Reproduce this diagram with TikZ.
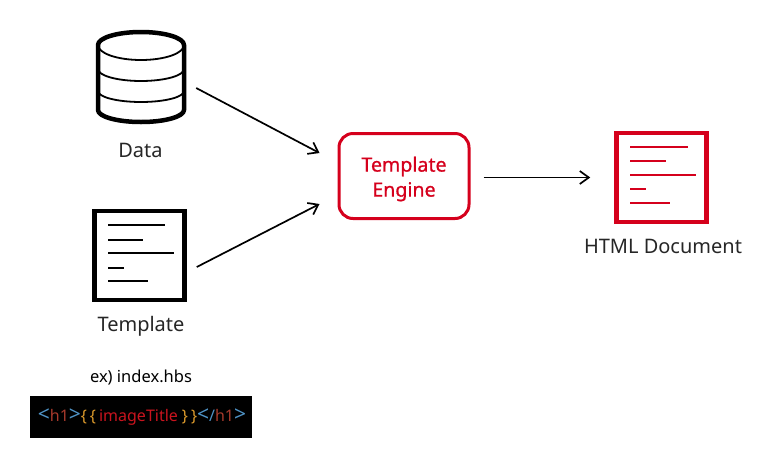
\documentclass[tikz,border=0pt]{standalone}
\usepackage{fontspec}
\setmainfont{Noto Sans}
\newfontfamily\enginefont[FakeBold=0.9]{Noto Sans}
\usetikzlibrary{arrows.meta,positioning,calc}
\definecolor{engred}{HTML}{D5001C}
\definecolor{tagblue}{HTML}{4F93C6}
\definecolor{tagname}{HTML}{A83A2C}
\definecolor{brace}{HTML}{D9982B}
\definecolor{varred}{HTML}{C9141E}
\newcommand{\chevopen}{\textcolor{tagblue}{\raisebox{-0.5pt}{\fontsize{21}{20}\selectfont\textless}}}
\newcommand{\chevclose}{\textcolor{tagblue}{\raisebox{-0.5pt}{\fontsize{21}{20}\selectfont\textgreater}}}
\begin{document}
\begin{tikzpicture}[x=1pt, y=-1pt, >={Straight Barb[length=9pt,width=13pt,line width=1.7pt]}]
\tikzstyle{label}=[font=\fontsize{20}{22}\selectfont, text=black!85, inner sep=0pt]
\tikzstyle{link}=[->, line width=1.7pt, black]
\tikzstyle{page}=[draw, line width=4.5pt, minimum width=90pt, minimum height=89pt, inner sep=0pt]
\tikzstyle{textline}=[line width=1.5pt]
\useasboundingbox (0,0) rectangle (777,467);
% database
\node[minimum width=90pt, minimum height=94pt, inner sep=0pt] (db) at (141,76) {};
\draw[line width=4.5pt, line join=round] (98,110) -- (98,45) arc[start angle=180, end angle=360, x radius=43, y radius=13] -- (184,110)
  arc[start angle=0, end angle=180, x radius=43, y radius=12] -- cycle;
\draw[line width=1.8pt] (98,45) arc[start angle=180, end angle=0, x radius=43, y radius=15];
\draw[line width=1.8pt] (98,69) arc[start angle=180, end angle=0, x radius=43, y radius=12];
\draw[line width=1.8pt] (98,91) arc[start angle=180, end angle=0, x radius=43, y radius=11];
\node[label] (datalabel) at (140.5,150) {Data};
% template page
\node[page] (tpl) at (139.5,255.5) {};
\foreach \y/\xend in {225/165, 240/143, 253/174, 268/124, 281/148}
  \draw[textline] (108,\y) -- (\xend,\y);
\node[label] (tpllabel) at (141,326) {Template};
% engine
\node[draw=engred, line width=3pt, rounded corners=14pt, minimum width=130pt, minimum height=85pt, inner sep=0pt] (engine) at (404,176) {};
\node[align=center, text=engred, inner sep=0pt, font=\fontsize{19.6}{25}\selectfont\enginefont] (enginetext) at (404,179) {Template\\Engine};
% result page
\node[page, draw=engred] (html) at (661.5,177.5) {};
\foreach \y/\xend in {147/688, 161/666, 175/696, 189/646, 203/670}
  \draw[textline, engred] (630,\y) -- (\xend,\y);
\node[label] (htmllabel) at (663,246) {HTML Document};
% example
\node[font=\fontsize{16.5}{18}\selectfont, inner sep=0pt] (exlabel) at (141,378) {ex) index.hbs};
\node[fill=black, minimum width=222pt, minimum height=42pt, inner sep=0pt, font=\fontsize{16}{20}\selectfont] (code) at (141,417)
  {\kern2pt\chevopen\textcolor{tagname}{h1}\chevclose\textcolor{brace}{\{\kern3pt\{}\kern3pt\textcolor{varred}{imageTitle}\kern4pt\textcolor{brace}{\}\kern3pt\}}\chevopen\textcolor{tagblue}{/}\textcolor{tagname}{h1}\chevclose};
% arrows
\coordinate (datatail) at ($(db.east)+(10,12)$);
\coordinate (tpltail) at ($(tpl.east)+(10,11.5)$);
\coordinate (enginetop) at ($(engine.west)+(-18,-23)$);
\coordinate (enginelow) at ($(engine.west)+(-18,28)$);
\coordinate (enginetail) at ($(engine.east)+(13,1.5)$);
\coordinate (htmlhead) at ($(html.west)+(-24,0)$);
\draw[link] (datatail) -- (enginetop);
\draw[link] (tpltail) -- (enginelow);
\draw[link] (enginetail) -- (htmlhead);
\end{tikzpicture}
\end{document}
